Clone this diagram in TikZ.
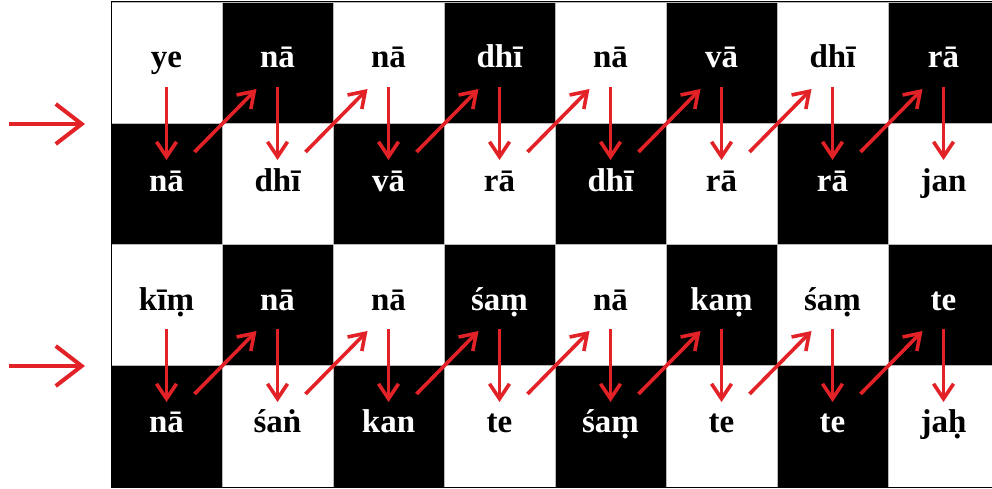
\documentclass[tikz,border=0pt]{standalone}
\usepackage{fontspec}
\setmainfont{Liberation Serif}
\usetikzlibrary{arrows.meta}
\definecolor{arrred}{RGB}{226,34,38}
\tikzset{
  cellbox/.style={draw=gray!55, line width=0.8pt},
  syl/.style={anchor=base, inner sep=0pt, font=\bfseries\fontsize{33}{38}\selectfont},
  sarr/.style={draw=arrred, line width=3.6pt, -{Straight Barb[length=15pt,width=20pt]}},
  larr/.style={draw=arrred, line width=4pt, -{Straight Barb[length=26pt,width=40pt]}}
}
\begin{document}
\begin{tikzpicture}[x=1pt,y=1pt]
\useasboundingbox (0,0) rectangle (992,488);
\begin{scope}
\clip (0,0) rectangle (992,488);
\foreach \r in {1,...,4}{
  \foreach \c in {1,...,8}{
    \pgfmathtruncatemacro\odd{mod(\c+\r,2)}
    \ifnum\odd=1 \def\fc{black}\else\def\fc{white}\fi
    \path[cellbox, fill=\fc] ({111*\c}, {486-121.25*(\r-1)}) rectangle ({111*\c+111}, {486-121.25*\r});
  }
}
\draw[line width=1pt, black] (111,486) rectangle (1000,1);
\end{scope}
% syllables
\foreach \t [count=\c] in {ye,nā,nā,dhī,nā,vā,dhī,rā}{
  \pgfmathtruncatemacro\odd{mod(\c+1,2)}
  \ifnum\odd=1 \def\tc{white}\else\def\tc{black}\fi
  \node[syl, text=\tc] (A\c) at ({111*\c+55.5}, 420) {\t};
}
\foreach \t [count=\c] in {nā,dhī,vā,rā,dhī,rā,rā,jan}{
  \pgfmathtruncatemacro\odd{mod(\c+2,2)}
  \ifnum\odd=1 \def\tc{white}\else\def\tc{black}\fi
  \node[syl, text=\tc] (B\c) at ({111*\c+55.5}, 297) {\t};
}
\foreach \t [count=\c] in {kīṃ,nā,nā,śaṃ,nā,kaṃ,śaṃ,te}{
  \pgfmathtruncatemacro\odd{mod(\c+3,2)}
  \ifnum\odd=1 \def\tc{white}\else\def\tc{black}\fi
  \node[syl, text=\tc] (C\c) at ({111*\c+55.5}, 178) {\t};
}
\foreach \t [count=\c] in {nā,śaṅ,kan,te,śaṃ,te,te,jaḥ}{
  \pgfmathtruncatemacro\odd{mod(\c+4,2)}
  \ifnum\odd=1 \def\tc{white}\else\def\tc{black}\fi
  \node[syl, text=\tc] (D\c) at ({111*\c+55.5}, 56) {\t};
}
% arrows
\foreach \c in {1,...,8}{
  \draw[sarr] ([yshift=-19pt]A\c.base) -- ([yshift=31pt]B\c.base);
  \draw[sarr] ([yshift=-19pt]C\c.base) -- ([yshift=30pt]D\c.base);
}
\foreach \c [evaluate=\c as \n using int(\c+1)] in {1,...,7}{
  \draw[sarr] ([xshift=28pt,yshift=39pt]B\c.base) -- ([xshift=-21pt,yshift=-21pt]A\n.base);
  \draw[sarr] ([xshift=28pt,yshift=38pt]D\c.base) -- ([xshift=-21pt,yshift=-21pt]C\n.base);
}
\coordinate (L1s) at (9,364);
\coordinate (L1e) at (85,364);
\coordinate (L2s) at (9,122);
\coordinate (L2e) at (85,122);
\draw[larr] (L1s) -- (L1e);
\draw[larr] (L2s) -- (L2e);
\end{tikzpicture}
\end{document}
